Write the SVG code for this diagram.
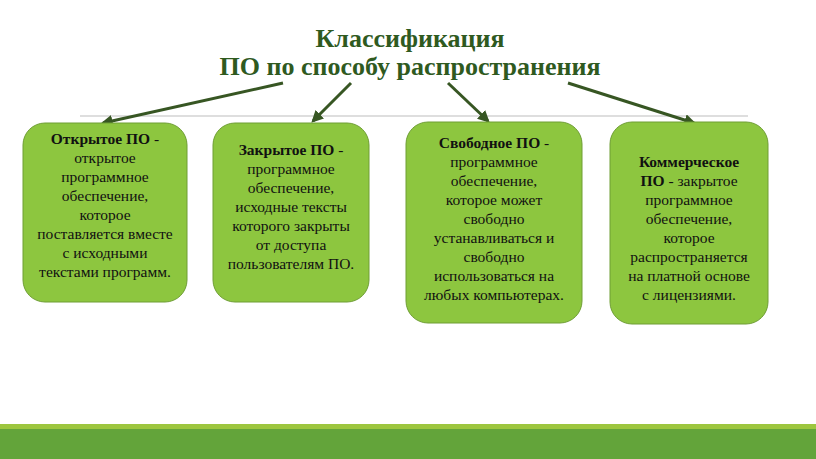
<svg xmlns="http://www.w3.org/2000/svg" width="816" height="459" viewBox="0 0 816 459">
<style>
.title{font-family:"Liberation Serif","Times New Roman",serif;font-weight:bold;font-size:26px;fill:#2f5a1f;text-anchor:middle}
.box{fill:#8dc63f;stroke:#6f9e35;stroke-width:1}
.t{font-family:"Liberation Serif","Times New Roman",serif;font-size:15.5px;fill:#111;text-anchor:middle}
.b{font-weight:bold}
.arr{stroke:#375623;stroke-width:3;fill:none;marker-end:url(#ah)}
</style>
<defs>
<marker id="ah" viewBox="0 0 10 10" refX="8" refY="5" markerWidth="4" markerHeight="4" orient="auto" markerUnits="strokeWidth">
<path d="M0,0 L10,5 L0,10 z" fill="#375623"/>
</marker>
</defs>
<rect x="0" y="0" width="816" height="459" fill="#ffffff"/>
<rect x="0" y="424" width="816" height="6" fill="#9dc63f"/>
<rect x="0" y="429" width="816" height="30" fill="#63a43a"/>
<line x1="80" y1="116" x2="748" y2="116" stroke="#bdbdbd" stroke-width="1"/>
<g id="title">
<text class="title" x="410" y="47">Классификация</text>
<text class="title" x="410" y="75">ПО по способу распространения</text>
</g>
<g id="connectors">
<line class="arr" x1="283" y1="83" x2="103" y2="123"/>
<line class="arr" x1="351" y1="83" x2="313" y2="121"/>
<line class="arr" x1="448" y1="83" x2="488" y2="121"/>
<line class="arr" x1="568" y1="83" x2="694" y2="123"/>
</g>
<g id="node1">
<rect class="box" x="23" y="123" width="164" height="179" rx="22"/>
<text class="t" x="105" y="144"><tspan class="b">Открытое ПО</tspan> -</text>
<text class="t" x="105" y="163">открытое</text>
<text class="t" x="105" y="182">программное</text>
<text class="t" x="105" y="201">обеспечение,</text>
<text class="t" x="105" y="220">которое</text>
<text class="t" x="105" y="239">поставляется вместе</text>
<text class="t" x="105" y="258">с исходными</text>
<text class="t" x="105" y="277">текстами программ.</text>
</g>
<g id="node2">
<rect class="box" x="213" y="123" width="156" height="179" rx="22"/>
<text class="t" x="291" y="155"><tspan class="b">Закрытое ПО</tspan> -</text>
<text class="t" x="291" y="174">программное</text>
<text class="t" x="291" y="193">обеспечение,</text>
<text class="t" x="291" y="212">исходные тексты</text>
<text class="t" x="291" y="231">которого закрыты</text>
<text class="t" x="291" y="250">от доступа</text>
<text class="t" x="291" y="269">пользователям ПО.</text>
</g>
<g id="node3">
<rect class="box" x="406" y="122" width="176" height="201" rx="22"/>
<text class="t" x="494" y="148"><tspan class="b">Свободное ПО</tspan> -</text>
<text class="t" x="494" y="167">программное</text>
<text class="t" x="494" y="186">обеспечение,</text>
<text class="t" x="494" y="205">которое может</text>
<text class="t" x="494" y="224">свободно</text>
<text class="t" x="494" y="243">устанавливаться и</text>
<text class="t" x="494" y="262">свободно</text>
<text class="t" x="494" y="281">использоваться на</text>
<text class="t" x="494" y="300">любых компьютерах.</text>
</g>
<g id="node4">
<rect class="box" x="610" y="122" width="158" height="202" rx="22"/>
<text class="t b" x="689" y="167">Коммерческое</text>
<text class="t" x="689" y="186"><tspan class="b">ПО</tspan> - закрытое</text>
<text class="t" x="689" y="205">программное</text>
<text class="t" x="689" y="224">обеспечение,</text>
<text class="t" x="689" y="243">которое</text>
<text class="t" x="689" y="262">распространяется</text>
<text class="t" x="689" y="281">на платной основе</text>
<text class="t" x="689" y="300">с лицензиями.</text>
</g>
</svg>
